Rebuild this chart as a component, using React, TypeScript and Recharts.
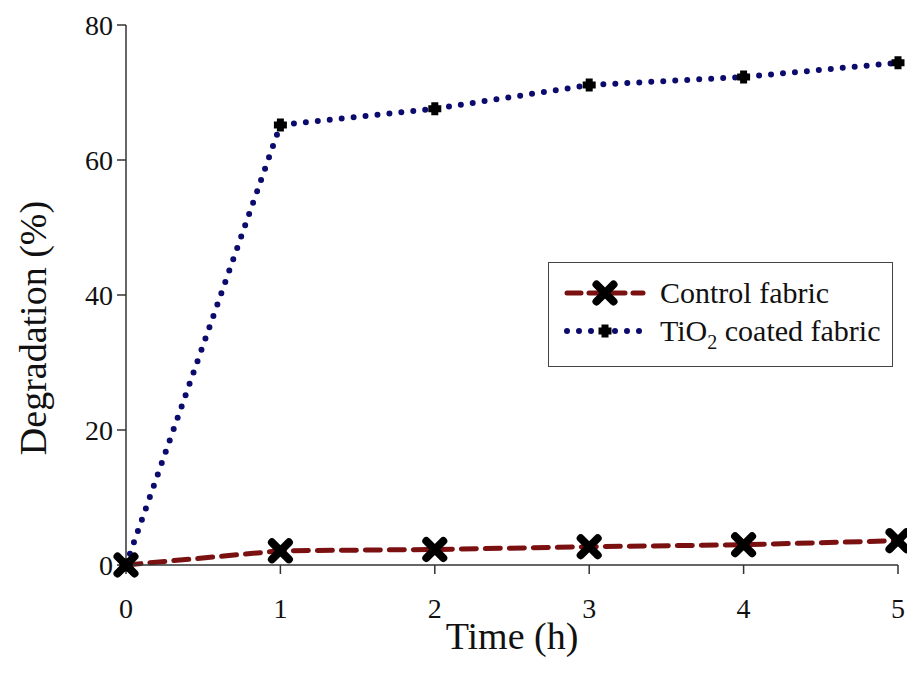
import React from 'react';
import { LineChart, Line, XAxis, YAxis } from 'recharts';

const times = [0, 1, 2, 3, 4, 5];
const controlFabric = [0, 2.1, 2.3, 2.7, 3.0, 3.6];
const tio2Fabric = [0, 65.2, 67.6, 71.1, 72.3, 74.4];
const xTicks = [0, 1, 2, 3, 4, 5];
const yTicks = [0, 20, 40, 60, 80];

const data = times.map((t, i) => ({ t, control: controlFabric[i], tio2: tio2Fabric[i] }));

const FONT = 'Liberation Serif, Times New Roman, serif';
const RED = '#7a1010';
const NAVY = '#0b0b6e';

const CrossDot = (props: any) => {
  const { cx, cy } = props;
  if (cx == null || cy == null) return null;
  const s = 8.5;
  return (
    <path
      d={`M${cx - s},${cy - s}L${cx + s},${cy + s}M${cx + s},${cy - s}L${cx - s},${cy + s}`}
      stroke="#000"
      strokeWidth={8}
      strokeLinecap="round"
      fill="none"
    />
  );
};

const PlusDot = (props: any) => {
  const { cx, cy } = props;
  if (cx == null || cy == null) return null;
  const s = 6.5;
  return (
    <path
      d={`M${cx - s},${cy}L${cx + s},${cy}M${cx},${cy - s}L${cx},${cy + s}`}
      stroke="#000"
      strokeWidth={7}
      strokeLinecap="butt"
      fill="none"
    />
  );
};

const LegendBox = () => (
  <div
    style={{
      position: 'absolute',
      left: 548,
      top: 262,
      width: 345,
      height: 105,
      border: '1.5px solid #444',
      background: '#fff',
      boxSizing: 'border-box',
    }}
  >
    <svg width={342} height={102} style={{ position: 'absolute', left: 0, top: 0 }}>
      <line x1={18} y1={30} x2={94} y2={30} stroke={RED} strokeWidth={5} strokeDasharray="14 8" strokeLinecap="round" />
      <CrossDot cx={56} cy={30} />
      <line x1={18} y1={68} x2={98} y2={68} stroke={NAVY} strokeWidth={6} strokeDasharray="0 12" strokeLinecap="round" />
      <PlusDot cx={56} cy={68} />
      <text x={111} y={40} style={{ fontFamily: FONT, fontSize: 30 }} fill="#111">Control fabric</text>
      <text x={111} y={78} style={{ fontFamily: FONT, fontSize: 30 }} fill="#111">
        TiO<tspan style={{ fontSize: 20 }} dy={8}>2</tspan><tspan dy={-8}> coated fabric</tspan>
      </text>
    </svg>
  </div>
);

const YLabel = (props: any) => {
  const { viewBox } = props;
  const cx = 33;
  const cy = viewBox.y + viewBox.height / 2 + 33;
  return (
    <text x={cx} y={cy} transform={`rotate(-90 ${cx} ${cy})`} textAnchor="middle" dominantBaseline="central"
      style={{ fontFamily: FONT, fontSize: 38 }} fill="#111">Degradation (%)</text>
  );
};

const XLabel = (props: any) => {
  const { viewBox } = props;
  const cx = viewBox.x + viewBox.width / 2;
  return (
    <text x={cx} y={649} textAnchor="middle" style={{ fontFamily: FONT, fontSize: 38 }} fill="#111">Time (h)</text>
  );
};

export default function App() {
  return (
    <div style={{ position: 'absolute', left: 0, top: 0, width: 907, height: 690, background: '#fff' }}>
      <LineChart width={907} height={690} data={data} margin={{ top: 25, right: 9, left: 0, bottom: 65 }}>
        <XAxis
          xAxisId="b"
          dataKey="t"
          type="number"
          domain={[0, 5]}
          ticks={xTicks}
          height={60}
          axisLine={{ stroke: '#333', strokeWidth: 1.5 }}
          tickLine={{ stroke: '#333', strokeWidth: 1.5 }}
          tickSize={9}
          tick={{ fontFamily: FONT, fontSize: 28, fill: '#111', dy: 22 }}
          label={<XLabel />}
        />
        <XAxis xAxisId="t" orientation="top" dataKey="t" type="number" domain={[0, 5]} height={0}
          tick={false} tickLine={false} axisLine={{ stroke: '#333', strokeWidth: 1.5 }} />
        <YAxis
          yAxisId="l"
          type="number"
          domain={[0, 80]}
          ticks={yTicks}
          width={126}
          axisLine={{ stroke: '#333', strokeWidth: 1.5 }}
          tickLine={{ stroke: '#333', strokeWidth: 1.5 }}
          tickSize={9}
          tick={{ fontFamily: FONT, fontSize: 28, fill: '#111', dx: -2 }}
          label={<YLabel />}
        />
        <YAxis yAxisId="r" orientation="right" type="number" domain={[0, 80]} width={0}
          tick={false} tickLine={false} axisLine={{ stroke: '#333', strokeWidth: 1.5 }} />
        <Line
          xAxisId="b"
          yAxisId="l"
          dataKey="tio2"
          stroke={NAVY}
          strokeWidth={6}
          strokeDasharray="0 12"
          strokeLinecap="round"
          dot={<PlusDot />}
          activeDot={false}
          isAnimationActive={false}
          type="linear"
        />
        <Line
          xAxisId="b"
          yAxisId="l"
          dataKey="control"
          stroke={RED}
          strokeWidth={5}
          strokeDasharray="15 9"
          strokeLinecap="round"
          dot={<CrossDot />}
          activeDot={false}
          isAnimationActive={false}
          type="linear"
        />
      </LineChart>
      <LegendBox />
    </div>
  );
}
